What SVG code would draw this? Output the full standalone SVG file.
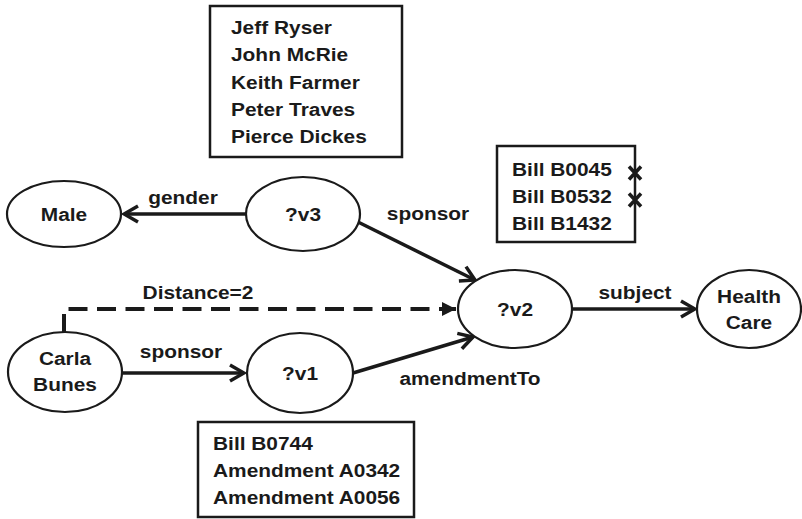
<svg xmlns="http://www.w3.org/2000/svg" width="802" height="519" viewBox="0 0 802 519">
  <style>
    .node { fill: #fff; stroke: #1a1a1a; stroke-width: 2.2; }
    .box { fill: #fff; stroke: #1a1a1a; stroke-width: 2.5; }
    .edge { fill: none; stroke: #1a1a1a; stroke-width: 3.5; }
    .dash { fill: none; stroke: #1a1a1a; stroke-width: 4; stroke-dasharray: 19 9.5; }
    .cross { stroke: #1a1a1a; stroke-width: 3.5; stroke-linecap: butt; }
    text { font-family: "Liberation Sans", Arial, Helvetica, sans-serif; font-weight: bold; font-size: 18.5px; fill: #1a1a1a; }
    .c { text-anchor: middle; }
  </style>
  <defs>
    <marker id="open" viewBox="-17 -11 19 22" refX="0" refY="0" markerWidth="19" markerHeight="22" markerUnits="userSpaceOnUse" orient="auto">
      <path d="M-14,-8 L0,0 L-14,8" fill="none" stroke="#1a1a1a" stroke-width="3.5"/>
    </marker>
    <marker id="solid" viewBox="-16 -9 17 18" refX="0" refY="0" markerWidth="17" markerHeight="18" markerUnits="userSpaceOnUse" orient="auto">
      <path d="M-14,-7 L0,0 L-14,7 Z" fill="#1a1a1a"/>
    </marker>
  </defs>

  <!-- connectors -->
  <g id="edges">
    <path class="edge" d="M246,214 L124,214" marker-end="url(#open)"/>
    <path class="edge" d="M358,222 L475,280" marker-end="url(#open)"/>
    <path class="dash" d="M64,333 V309 H442"/>
    <path class="edge" d="M440,309 L456,309" style="stroke-width:4" marker-end="url(#solid)"/>
    <path class="edge" d="M122,373 L244,373" marker-end="url(#open)"/>
    <path class="edge" d="M353,373 L473,337" marker-end="url(#open)"/>
    <path class="edge" d="M572,309 L695,309" marker-end="url(#open)"/>
  </g>

  <!-- edge labels -->
  <g id="edge-labels">
    <text class="c" transform="translate(183 204) scale(1.13 1)">gender</text>
    <text class="c" transform="translate(428 220) scale(1.13 1)">sponsor</text>
    <text class="c" transform="translate(198 299) scale(1.13 1)">Distance=2</text>
    <text class="c" transform="translate(181 358) scale(1.13 1)">sponsor</text>
    <text class="c" transform="translate(470 385) scale(1.13 1)">amendmentTo</text>
    <text class="c" transform="translate(635 299) scale(1.13 1)">subject</text>
  </g>

  <!-- nodes -->
  <g id="male">
    <ellipse class="node" cx="64" cy="214" rx="57" ry="33"/>
    <text class="c" transform="translate(64 220.5) scale(1.13 1)">Male</text>
  </g>
  <g id="v3">
    <ellipse class="node" cx="303" cy="214" rx="57" ry="37"/>
    <text class="c" transform="translate(303 220.5) scale(1.13 1)">?v3</text>
  </g>
  <g id="v2">
    <ellipse class="node" cx="515" cy="309" rx="57" ry="39"/>
    <text class="c" transform="translate(515 316) scale(1.13 1)">?v2</text>
  </g>
  <g id="health-care">
    <ellipse class="node" cx="749" cy="309" rx="52" ry="39"/>
    <text class="c" transform="translate(749 302.5) scale(1.13 1)">Health</text>
    <text class="c" transform="translate(749 329) scale(1.13 1)">Care</text>
  </g>
  <g id="carla-bunes">
    <ellipse class="node" cx="65" cy="372" rx="57" ry="40"/>
    <text class="c" transform="translate(65 364.5) scale(1.13 1)">Carla</text>
    <text class="c" transform="translate(65 391) scale(1.13 1)">Bunes</text>
  </g>
  <g id="v1">
    <ellipse class="node" cx="300" cy="373" rx="53" ry="40"/>
    <text class="c" transform="translate(300 380) scale(1.13 1)">?v1</text>
  </g>

  <!-- value lists -->
  <g id="sponsors-list">
    <rect class="box" x="210" y="6" width="192" height="151"/>
    <text transform="translate(231 34) scale(1.13 1)">Jeff Ryser</text>
    <text transform="translate(231 61.3) scale(1.13 1)">John McRie</text>
    <text transform="translate(231 88.5) scale(1.13 1)">Keith Farmer</text>
    <text transform="translate(231 115.8) scale(1.13 1)">Peter Traves</text>
    <text transform="translate(231 143) scale(1.13 1)">Pierce Dickes</text>
  </g>
  <g id="bills-list">
    <rect class="box" x="497" y="146" width="138" height="96"/>
    <text transform="translate(512 176) scale(1.13 1)">Bill B0045</text>
    <text transform="translate(512 203) scale(1.13 1)">Bill B0532</text>
    <text transform="translate(512 230) scale(1.13 1)">Bill B1432</text>
    <path class="cross" d="M629,166.5 L641,179.5 M641,166.5 L629,179.5"/>
    <path class="cross" d="M629,193.5 L641,206.5 M641,193.5 L629,206.5"/>
  </g>
  <g id="amendments-list">
    <rect class="box" x="198" y="422" width="216" height="95"/>
    <text transform="translate(213 450) scale(1.13 1)">Bill B0744</text>
    <text transform="translate(213 477) scale(1.13 1)">Amendment A0342</text>
    <text transform="translate(213 504) scale(1.13 1)">Amendment A0056</text>
  </g>
</svg>
